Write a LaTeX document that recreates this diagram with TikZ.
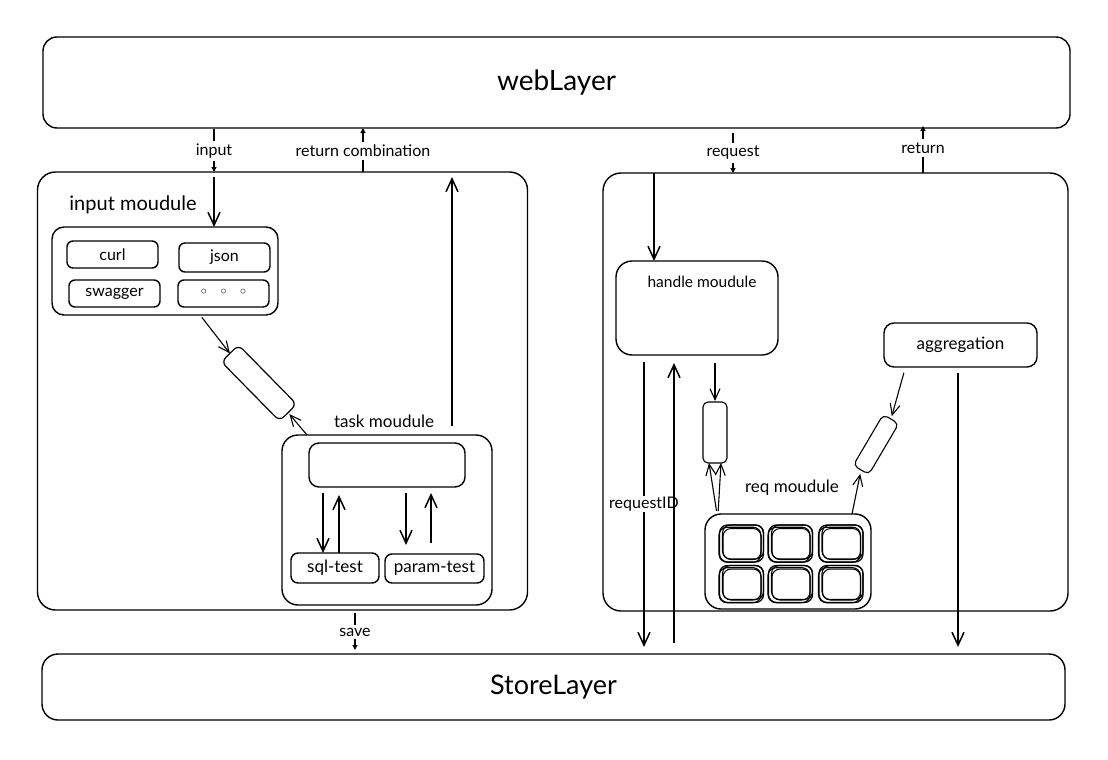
\documentclass[tikz,border=0pt]{standalone}
\usepackage{fontspec}
\setmainfont{Lato}
\newfontfamily\symfont{DejaVu Sans}
\usetikzlibrary{arrows.meta,calc}
\newcommand\fsz[1]{\fontsize{#1}{#1}\selectfont}
\begin{document}
\begin{tikzpicture}[x=1pt,y=-1pt,
  box/.style={draw, line width=1.4pt, inner sep=0pt, outer sep=0pt, rounded corners=#1},
  box/.default=10pt,
  lbl/.style={font=\fsz{16}, inner sep=3pt},
  arr/.style={line width=1.5pt, -{Straight Barb[length=13pt,width=12pt]}},
  arrs/.style={line width=1.1pt, -{Straight Barb[length=11pt,width=10pt]}},
  tri/.style={line width=1.3pt, -{Triangle[length=5pt,width=5pt]}},
  tick/.style={line width=1.3pt}]
\useasboundingbox (0,0) rectangle (1108,760);
% layers
\node[box=14pt, minimum width=1027pt, minimum height=91pt, font=\fsz{28}] (web) at (556.5,82.5) {webLayer};
\node[box=16pt, minimum width=1023pt, minimum height=66pt, font=\fsz{27}] (store) at (553.5,687) {StoreLayer};
% panels
\node[box=18pt, minimum width=490pt, minimum height=438pt] (lpanel) at (282.5,391) {};
\node[box=18pt, minimum width=465pt, minimum height=438pt] (rpanel) at (835.5,392) {};
% input module
\node[font=\fsz{20}] (inmodt) at (133,205) {input moudule};
\node[box=12pt, minimum width=226pt, minimum height=88pt] (inmod) at (165,271) {};
\node[box=6pt, minimum width=91pt, minimum height=27pt, font=\fsz{16}] (curl) at (112.5,254.5) {curl};
\node[box=6pt, minimum width=91pt, minimum height=29pt, font=\fsz{16}] (json) at (224.5,257.5) {json};
\node[box=6pt, minimum width=91pt, minimum height=27pt, font=\fsz{16}] (swagger) at (114.5,293.5) {swagger};
\node[box=6pt, minimum width=91pt, minimum height=27pt, font=\symfont\fsz{16}] (dots) at (223.5,293.5) {◦\ \ ◦\ \ ◦};
% queue box left
\node[box=6pt, line width=1.2pt, minimum width=83pt, minimum height=24pt, rotate=-45.5] (qbox) at (259,383) {};
% task module
\node[font=\fsz{17}] (taskt) at (384,421) {task moudule};
\node[box=16pt, minimum width=210pt, minimum height=170pt] (task) at (387,520) {};
\node[box=10pt, minimum width=156pt, minimum height=44pt] (blank) at (387,465) {};
\node[box=7pt, minimum width=88pt, minimum height=30pt, font=\fsz{17}] (sql) at (335,568) {sql-test};
\node[box=7pt, minimum width=99pt, minimum height=29pt, font=\fsz{17}] (param) at (434.5,568.5) {param-test};
% right side
\node[box=16pt, minimum width=162pt, minimum height=94pt] (handle) at (697,308) {};
\node[font=\fsz{15.5}] (handlet) at (702,282) {handle moudule};
\node[box=10pt, minimum width=153pt, minimum height=44pt, font=\fsz{17}] (agg) at (960.5,345) {aggregation};
\node[box=5pt, line width=1.1pt, minimum width=24pt, minimum height=61pt] (vbox) at (715,432.5) {};
\node[box=5pt, line width=1.1pt, minimum width=59pt, minimum height=18pt, rotate=59.5] (dbox) at (876,444.5) {};
\node[font=\fsz{17}] (reqt) at (792,488) {req moudule};
\node[box=16pt, minimum width=166pt, minimum height=95pt] (req) at (788,561.5) {};
\foreach \n/\cx/\cy in {1/741.5/543.5, 2/790.5/543.5, 3/841/543.5, 4/741.5/584, 5/790.5/584, 6/841/584}{
  \node[box=8pt, line width=1.3pt, minimum width=44pt, minimum height=37pt] (sq\n) at (\cx,\cy) {};
  \node[box=8pt, line width=1.1pt, minimum width=41pt, minimum height=34pt] at (\cx+1.5,\cy-1.5) {};
  \node[box=8pt, line width=1.1pt, minimum width=42pt, minimum height=35pt] at (\cx-1.5,\cy+1.2) {};
  \node[box=8pt, line width=1.0pt, minimum width=38pt, minimum height=31pt] at (\cx+0.5,\cy+0.5) {};
}
% labels on connectors
\node[lbl] (lin) at (214,151) {input};
\node[lbl] (lrc) at (363,151) {return combination};
\node[lbl] (lsave) at (355,632) {save};
\node[lbl] (lreq) at (733,153) {request};
\node[lbl] (lret) at (923,148) {return};
\node[lbl, inner sep=1pt] (lrid) at (644,504) {requestID};
% left connectors
\draw[tick, shorten <=1pt] (web.south -| lin) -- (lin.north);
\draw[tri] (lin.south) -- (lpanel.north -| lin);
\draw[arr, shorten <=5pt] (lpanel.north -| lin) -- (inmod.north -| lin);
\draw[tick] (lpanel.north -| lrc) -- (lrc.south);
\draw[tri] (lrc.north) -- (web.south -| lrc);
\draw[arr, shorten <=9pt, shorten >=5pt] ([xshift=65pt]task.north) -- ([xshift=65pt]task.north |- lpanel.north);
\draw[arrs, shorten <=3pt] ([xshift=35pt]inmod.south) -- (qbox.west);
\draw[arrs, shorten >=2pt] ([xshift=-80pt]task.north) -- (qbox.east);
\draw[arr, shorten <=6pt] ([xshift=-12pt]sql.north |- blank.south) -- ([xshift=-12pt]sql.north);
\draw[arr, shorten >=8pt] ([xshift=4pt]sql.north) -- ([xshift=4pt]sql.north |- blank.south);
\draw[arr, shorten <=6pt, shorten >=9pt] ([xshift=-28.5pt]param.north |- blank.south) -- ([xshift=-28.5pt]param.north);
\draw[arr, shorten <=11pt, shorten >=6pt] ([xshift=-3.5pt]param.north) -- ([xshift=-3.5pt]param.north |- blank.south);
\draw[tick, shorten <=3pt] (lpanel.south -| lsave) -- (lsave.north);
\draw[tri, shorten >=4pt] (lsave.south) -- (store.north -| lsave);
% right connectors
\draw[tick, shorten <=5pt] (web.south -| lreq) -- (lreq.north);
\draw[tri] (lreq.south) -- (rpanel.north -| lreq);
\draw[tick] (rpanel.north -| lret) -- (lret.south);
\draw[tri, shorten >=-2pt] (lret.north) -- (web.south -| lret);
\draw[arr] ([xshift=-43pt]handle.north |- rpanel.north) -- ([xshift=-43pt]handle.north);
\draw[tick, shorten <=7pt] (handle.south -| lrid) -- (lrid.north);
\draw[arr, shorten >=7pt] (lrid.south) -- (store.north -| lrid);
\draw[arr, shorten <=11pt, shorten >=8pt] ([xshift=-23pt]handle.south |- store.north) -- ([xshift=-23pt]handle.south);
\draw[arrs, shorten <=8pt, shorten >=1pt] (vbox.north |- handle.south) -- (vbox.north);
\draw[arrs, shorten <=3pt] ([xshift=-71pt]req.north) -- ([xshift=-6pt]vbox.south);
\draw[arrs, shorten <=3pt] ([xshift=-70pt]req.north) -- ([xshift=6pt]vbox.south);
\draw[arrs, shorten <=6pt, shorten >=3pt] ([xshift=-55pt]agg.south) -- (dbox.east);
\draw[arrs, shorten >=4pt] ([xshift=64pt]req.north) -- (dbox.west);
\draw[arr, shorten <=6pt, shorten >=7pt] ([xshift=-2.5pt]agg.south) -- ([xshift=-2.5pt]agg.south |- store.north);
\end{tikzpicture}
\end{document}
